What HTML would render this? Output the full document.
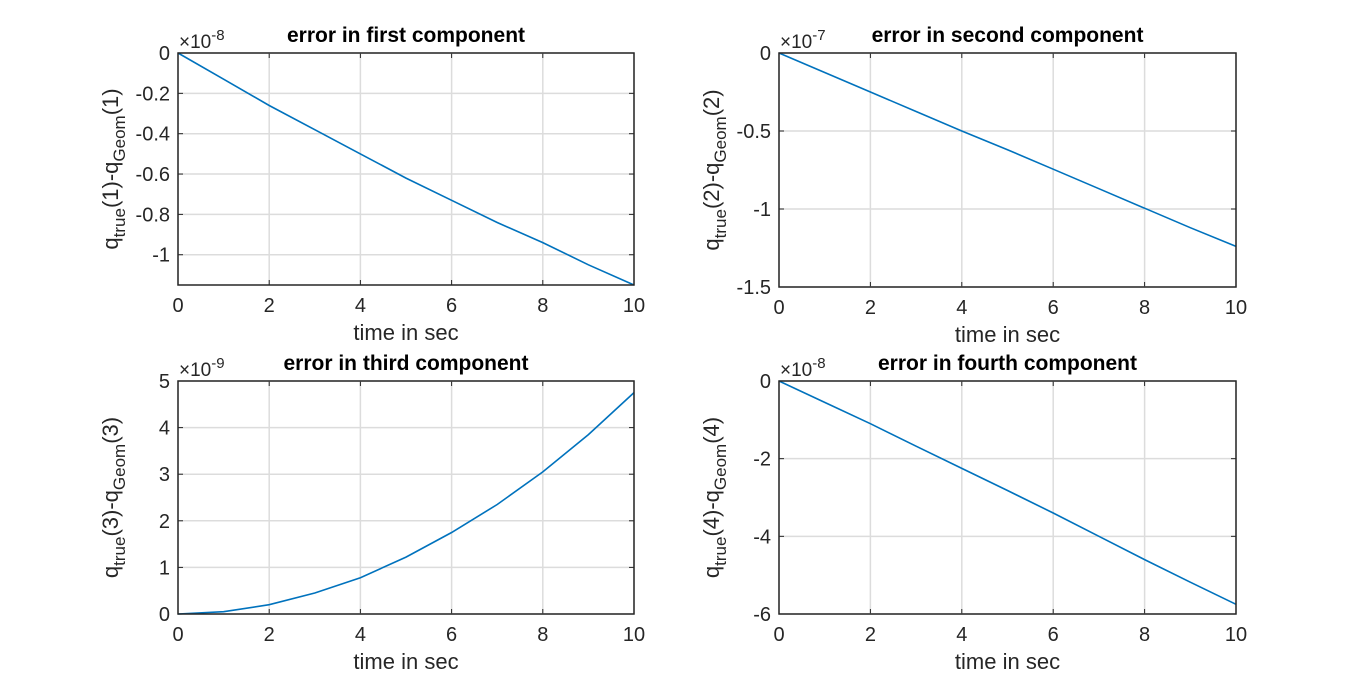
<!DOCTYPE html>
<html><head><meta charset="utf-8"><style>
html,body{margin:0;padding:0;background:#fff;}
svg{display:block;font-family:"Liberation Sans",Arial,sans-serif;}
</style></head><body>
<svg id="fig" width="1366" height="691" viewBox="0 0 1366 691"></svg>
<script>
const timeValues = [0,1,2,3,4,5,6,7,8,9,10];
const err1 = [0,-0.13,-0.26,-0.38,-0.5,-0.62,-0.73,-0.84,-0.94,-1.05,-1.15];
const err2 = [0,-0.125,-0.25,-0.375,-0.5,-0.62,-0.745,-0.87,-0.995,-1.12,-1.24];
const err3 = [0,0.05,0.2,0.45,0.78,1.22,1.75,2.35,3.05,3.85,4.75];
const err4 = [0,-0.55,-1.1,-1.68,-2.25,-2.82,-3.4,-4.0,-4.6,-5.18,-5.75];
const xTicks = [0,2,4,6,8,10];
const yTicks1 = [0,-0.2,-0.4,-0.6,-0.8,-1];
const yTicks2 = [0,-0.5,-1,-1.5];
const yTicks3 = [0,1,2,3,4,5];
const yTicks4 = [0,-2,-4,-6];
const NS="http://www.w3.org/2000/svg";
const svg=document.getElementById('fig');
function mk(tag,attrs,parent){const e=document.createElementNS(NS,tag);for(const k in attrs)e.setAttribute(k,attrs[k]);(parent||svg).appendChild(e);return e;}
const panels=[
 {id:1,L:178,T:53,R:634,B:285,ymin:-1.15,ymax:0,ys:err1,yt:yTicks1,exp:'-8',title:'error in first component'},
 {id:2,L:779,T:53,R:1236,B:287,ymin:-1.5,ymax:0,ys:err2,yt:yTicks2,exp:'-7',title:'error in second component'},
 {id:3,L:178,T:381,R:634,B:614,ymin:0,ymax:5,ys:err3,yt:yTicks3,exp:'-9',title:'error in third component'},
 {id:4,L:779,T:381,R:1236,B:614,ymin:-6,ymax:0,ys:err4,yt:yTicks4,exp:'-8',title:'error in fourth component'}];
panels.forEach(p=>{
 const g=mk('g',{});
 
 
 const sx=v=>p.L+(v-0)/(10-0)*(p.R-p.L);
 const sy=v=>p.B-(v-p.ymin)/(p.ymax-p.ymin)*(p.B-p.T);
 mk('rect',{x:p.L,y:p.T,width:p.R-p.L,height:p.B-p.T,fill:'#fff'},g);
 xTicks.forEach(t=>{
  const x=sx(t);
  const gl=mk('line',{x1:x,x2:x,y1:p.T,y2:p.B,stroke:'#dcdcdc','stroke-width':1.5},g);
  
  
  mk('line',{x1:x,x2:x,y1:p.B,y2:p.B-5,stroke:'#262626','stroke-width':1},g);
  mk('line',{x1:x,x2:x,y1:p.T,y2:p.T+5,stroke:'#262626','stroke-width':1},g);
  const tl=mk('text',{x:x,y:p.B+27,'text-anchor':'middle','font-size':20,fill:'#262626'},g);
  tl.textContent=t;
  
  
 });
 p.yt.forEach(t=>{
  const y=sy(t);
  const gl=mk('line',{x1:p.L,x2:p.R,y1:y,y2:y,stroke:'#dcdcdc','stroke-width':1.5},g);
  
  
  mk('line',{x1:p.L,x2:p.L+5,y1:y,y2:y,stroke:'#262626','stroke-width':1},g);
  mk('line',{x1:p.R,x2:p.R-5,y1:y,y2:y,stroke:'#262626','stroke-width':1},g);
  const tl=mk('text',{x:p.L-8,y:y+7,'text-anchor':'end','font-size':20,fill:'#262626'},g);
  tl.textContent=t;
  
  
 });
 const pts=timeValues.map((t,i)=>sx(t).toFixed(1)+','+sy(p.ys[i]).toFixed(1)).join(' ');
 const ln=mk('polyline',{points:pts,fill:'none',stroke:'#0072bd','stroke-width':1.6},g);
 
 
 const ax=mk('rect',{x:p.L,y:p.T,width:p.R-p.L,height:p.B-p.T,fill:'none',stroke:'#262626','stroke-width':1.5},g);
 
 
 const ex=mk('text',{x:p.L+1,y:p.T-5,'font-size':19,fill:'#262626'},g);
 ex.innerHTML='×10<tspan dy="-8" font-size="15">'+p.exp+'</tspan>';
 
 
 const ti=mk('text',{x:(p.L+p.R)/2,y:p.T-11,'text-anchor':'middle','font-size':21,'font-weight':'bold',fill:'#000'},g);
 ti.textContent=p.title;
 
 
 const xl=mk('text',{x:(p.L+p.R)/2,y:p.B+55,'text-anchor':'middle','font-size':22,fill:'#262626'},g);
 xl.textContent='time in sec';
 
 
 const cy=(p.T+p.B)/2, cx=p.L-60;
 const yl=mk('text',{x:cx,y:cy,'text-anchor':'middle','font-size':22,fill:'#262626',transform:'rotate(-90 '+cx+' '+cy+')'},g);
 yl.innerHTML='q<tspan dy="7" font-size="17">true</tspan><tspan dy="-7">('+p.id+')-q</tspan><tspan dy="7" font-size="17">Geom</tspan><tspan dy="-7">('+p.id+')</tspan>';
 
 
});
</script>
</body></html>
